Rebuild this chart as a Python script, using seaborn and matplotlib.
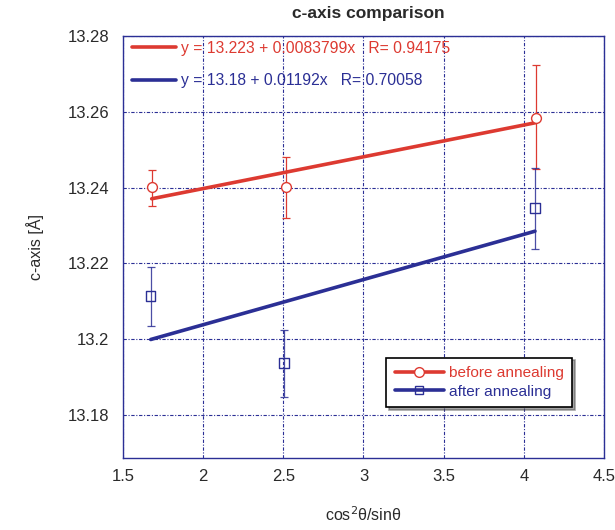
import numpy as np
import pandas as pd
import matplotlib
matplotlib.use("Agg")
import matplotlib.pyplot as plt
from matplotlib.lines import Line2D
import seaborn as sns

# data
x_before = [1.679, 2.515, 4.076]
y_before = [13.2401, 13.2402, 13.2584]
err_lo_before = [13.2352, 13.2320, 13.2449]
err_hi_before = [13.2447, 13.2482, 13.2724]

x_after = [1.673, 2.504, 4.070]
y_after = [13.2114, 13.1937, 13.2346]
err_lo_after = [13.2035, 13.1848, 13.2239]
err_hi_after = [13.2191, 13.2024, 13.2451]

fit_before = (13.223, 0.0083799, 0.94175)
fit_after = (13.18, 0.01192, 0.70058)

x_ticks = [1.5, 2, 2.5, 3, 3.5, 4, 4.5]
y_ticks = [13.18, 13.2, 13.22, 13.24, 13.26, 13.28]
y_tick_labels = ["13.18", "13.2", "13.22", "13.24", "13.26", "13.28"]
x_tick_labels = ["1.5", "2", "2.5", "3", "3.5", "4", "4.5"]

RED = "#dd3a31"
BLUE = "#2b2f95"
GRID = "#2b2f95"
TXT = "#2a2a2a"

sns.set_theme(style="white")
plt.rcParams["font.family"] = ["Liberation Sans", "DejaVu Sans"]

fig = plt.figure(figsize=(6.15, 5.30), dpi=100)
ax = fig.add_axes([0.2, 0.136, 0.782, 0.796])

def fit_df(xs, fit):
    a, b, _ = fit
    xx = np.array([min(xs), max(xs)])
    return pd.DataFrame({"x": xx, "y": a + b * xx})

# fit lines
sns.lineplot(data=fit_df(x_before, fit_before), x="x", y="y", color=RED, lw=2.6, ax=ax, zorder=3)
sns.lineplot(data=fit_df(x_after, fit_after), x="x", y="y", color=BLUE, lw=2.6, ax=ax, zorder=3)

# error bars
yb = np.array(y_before); ya = np.array(y_after)
ax.errorbar(x_before, yb, yerr=[yb - np.array(err_lo_before), np.array(err_hi_before) - yb],
            fmt="none", ecolor=RED, elinewidth=0.9, capsize=3, capthick=0.9, zorder=4)
ax.errorbar(x_after, ya, yerr=[ya - np.array(err_lo_after), np.array(err_hi_after) - ya],
            fmt="none", ecolor=BLUE, elinewidth=0.9, capsize=3, capthick=0.9, zorder=4, alpha=0.85)

# markers
sns.scatterplot(x=x_before, y=y_before, marker="o", s=50, facecolor="white",
                edgecolor=RED, linewidth=1.0, ax=ax, zorder=5)
sns.scatterplot(x=x_after, y=y_after, marker="s", s=45, facecolor="none",
                edgecolor=BLUE, linewidth=1.0, ax=ax, zorder=5)

ax.set_xlim(1.5, 4.5)
ax.set_ylim(13.1687, 13.28)
ax.set_xticks(x_ticks)
ax.set_xticklabels(x_tick_labels)
ax.set_yticks(y_ticks)
ax.set_yticklabels(y_tick_labels)
ax.tick_params(axis="both", labelsize=12, labelcolor=TXT, length=0)
ax.tick_params(axis="x", pad=8)
ax.tick_params(axis="y", pad=10)

ax.grid(True, color=GRID, linestyle=(0, (3, 1.5, 1, 1.5)), linewidth=0.8)
for sp in ax.spines.values():
    sp.set_color(BLUE)
    sp.set_linewidth(1.0)

ax.set_title("c-axis comparison", fontsize=12.5, fontweight="bold", color=TXT, pad=13, x=0.51)
ax.set_xlabel(r"cos$^2$θ/sinθ", fontsize=11.5, color=TXT, labelpad=15)
ax.set_ylabel("c-axis [Å]", fontsize=11.5, color=TXT, labelpad=17)

# fit equations legend (top-left)
fit_handles = [Line2D([], [], color=RED, lw=2.6), Line2D([], [], color=BLUE, lw=2.6)]
fit_labels = [f"y = {fit_before[0]} + {fit_before[1]}x   R= {fit_before[2]}",
              f"y = {fit_after[0]} + {fit_after[1]}x   R= {fit_after[2]}"]
leg1 = ax.legend(fit_handles, fit_labels, loc="upper left", bbox_to_anchor=(-0.01, 1.022),
                 frameon=False, fontsize=11.3, labelcolor="linecolor", handlelength=2.8,
                 handletextpad=0.3, labelspacing=1.1)
ax.add_artist(leg1)

# data legend (lower right)
data_handles = [Line2D([], [], color=RED, lw=2.6, marker="o", markersize=7,
                       markerfacecolor="white", markeredgecolor=RED, markeredgewidth=1.0),
                Line2D([], [], color=BLUE, lw=2.6, marker="s", markersize=6,
                       markerfacecolor="none", markeredgecolor=BLUE, markeredgewidth=1.0)]
leg2 = ax.legend(data_handles, ["before annealing", "after annealing"], loc="lower right",
                 bbox_to_anchor=(0.934, 0.12), frameon=True, fancybox=False, shadow=True,
                 fontsize=11.1, labelcolor="linecolor", handlelength=3.2, handletextpad=0.3,
                 labelspacing=0.3, borderpad=0.55, borderaxespad=0.0)
leg2.get_frame().set_edgecolor("black")
leg2.get_frame().set_linewidth(1.2)
leg2.get_frame().set_alpha(1)

fig.savefig("out.png", dpi=100)
